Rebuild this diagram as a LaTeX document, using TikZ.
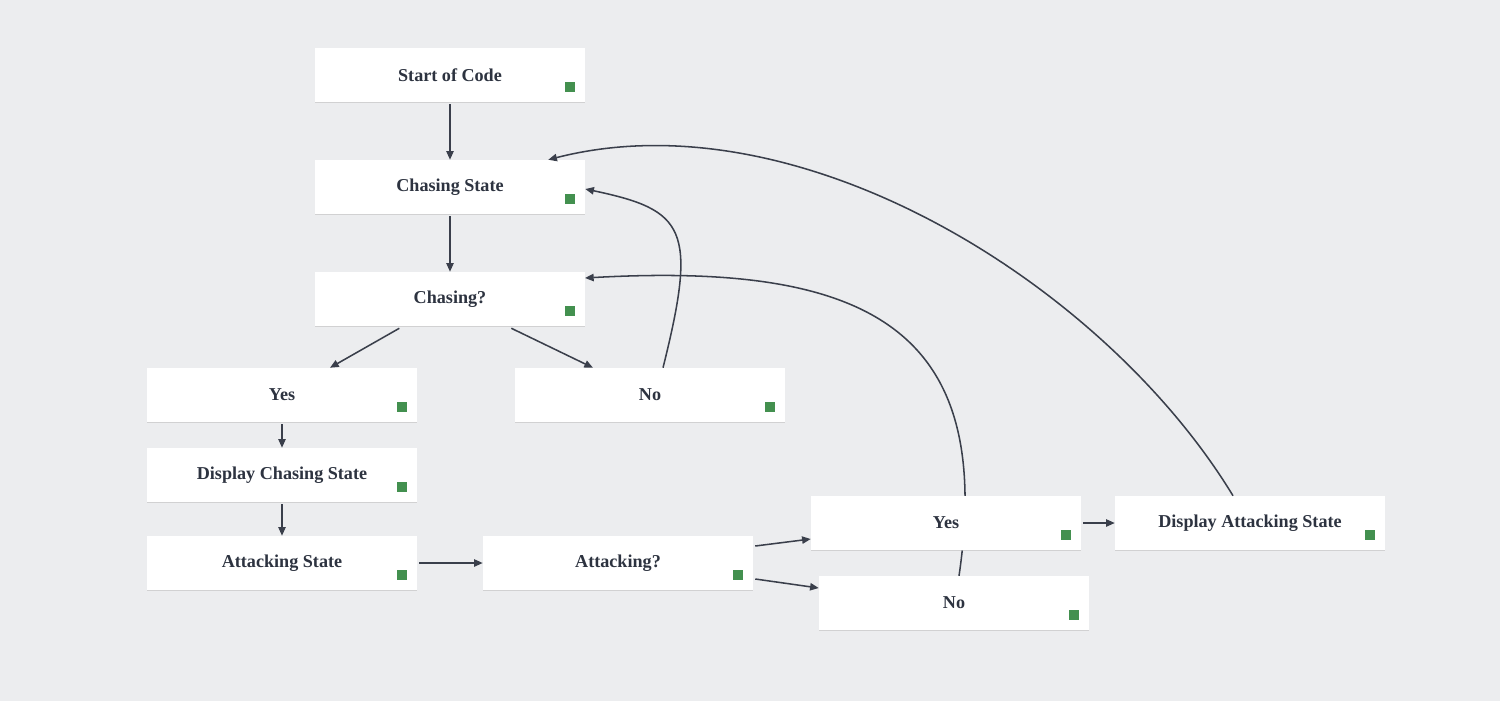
\documentclass[tikz,border=0pt]{standalone}
\usepackage{fontspec}
\setmainfont{Liberation Serif}
\usetikzlibrary{arrows.meta,shadows}
\definecolor{bgc}{HTML}{ECEDEF}
\definecolor{txt}{HTML}{2D3340}
\definecolor{lnc}{HTML}{3A3F4B}
\definecolor{grn}{HTML}{43904F}
\tikzset{
  box/.style={rectangle, fill=white, inner sep=0pt,
    minimum width=202.5pt, minimum height=40.5pt,
    font=\bfseries\fontsize{13.6pt}{16pt}\selectfont, text=txt,
    drop shadow={shadow xshift=0pt, shadow yshift=-0.9pt, fill=black!25, opacity=0.6},
    path picture={\fill[grn] ([xshift=-15pt,yshift=7.5pt]path picture bounding box.south east) rectangle ++(7.5pt,7.5pt);}},
  conn/.style={draw=lnc, line width=1.15pt, -{Triangle[length=6.5pt,width=5.5pt]}}
}
\begin{document}
\begin{tikzpicture}[x=0.75pt,y=-0.75pt]
\fill[bgc] (0,0) rectangle (1500,701);
\useasboundingbox (0,0) rectangle (1500,701);
% curve behind the Yes box
\coordinate (cA) at (959,576);
\coordinate (cB) at (585,278);
\draw[conn] (cA) .. controls (995,330) and (870,262) .. (cB);

\node[box] (start) at (450,75) {Start of Code};
\node[box] (chs) at (450,187) {Chasing State};
\node[box] (chq) at (450,299) {Chasing?};
\node[box] (yes1) at (282,395) {Yes};
\node[box] (no1) at (650,395) {No};
\node[box] (dcs) at (282,475) {Display Chasing State};
\node[box] (ats) at (282,563) {Attacking State};
\node[box] (atq) at (618,563) {Attacking?};
\node[box] (yes2) at (946,523) {Yes};
\node[box] (no2) at (954,603) {No};
\node[box] (das) at (1250,523) {Display Attacking State};

\draw[conn] ([yshift=-1.5pt]start.south) -- (chs.north);
\draw[conn] ([yshift=-1.5pt]chs.south) -- (chq.north);
\draw[conn] ([xshift=-38pt,yshift=-1.5pt]chq.south) -- ([xshift=36pt]yes1.north);
\draw[conn] ([xshift=46pt,yshift=-1.5pt]chq.south) -- ([xshift=-42.75pt]no1.north);
\draw[conn] ([yshift=-1.5pt]yes1.south) -- (dcs.north);
\draw[conn] ([yshift=-1.5pt]dcs.south) -- (ats.north);
\draw[conn] ([xshift=1.5pt]ats.east) -- (atq.west);
\draw[conn] ([xshift=1.5pt,yshift=12.75pt]atq.east) -- ([yshift=-12pt]yes2.west);
\draw[conn] ([xshift=1.5pt,yshift=-12pt]atq.east) -- ([yshift=11.25pt]no2.west);
\draw[conn] ([xshift=1.5pt]yes2.east) -- (das.west);
\draw[conn] ([xshift=9.75pt]no1.north) .. controls (698,228) and (685,210) .. ([yshift=-1.5pt]chs.east);
\draw[conn] ([xshift=-12.75pt]das.north) .. controls (1105,285) and (800,95) .. ([xshift=-27.75pt]chs.north east);
\end{tikzpicture}
\end{document}
